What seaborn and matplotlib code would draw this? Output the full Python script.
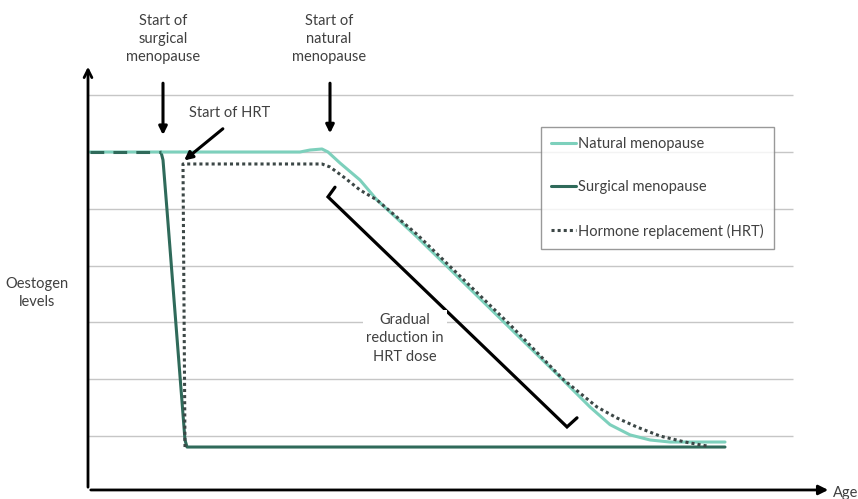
import matplotlib
matplotlib.use("Agg")
import pandas as pd
import seaborn as sns
import matplotlib.pyplot as plt

# age axis (arbitrary units) and oestrogen level (gridline units)
natural_age = [0.2, 21.2, 22.2, 23.4, 24.0, 25.2, 27.2, 28.9, 32.9, 42.2, 47.5,
               50.2, 52.2, 54.2, 56.2, 58.2, 63.7]
natural_level = [6.0, 6.0, 6.035, 6.053, 6.0, 5.806, 5.507, 5.155, 4.504, 2.901,
                 1.986, 1.511, 1.2, 1.02, 0.93, 0.894, 0.894]

surgical_pre_age = [0.2, 7.3]
surgical_pre_level = [6.0, 6.0]
surgical_age = [7.3, 7.5, 7.9, 9.7, 9.9, 63.7]
surgical_level = [6.0, 5.859, 4.979, 0.93, 0.806, 0.806]

hrt_age = [9.7, 9.5, 23.4, 24.2, 25.7, 27.2, 28.9, 32.9, 42.2, 47.5, 50.9,
           52.9, 54.9, 57.2, 59.7, 61.9]
hrt_level = [0.806, 5.789, 5.789, 5.736, 5.542, 5.331, 5.155, 4.55, 2.96, 2.0,
             1.511, 1.317, 1.158, 1.0, 0.894, 0.824]

# bracket marking the gradual dose reduction
bracket_x = [24.7, 24.0, 47.9, 48.9]
bracket_y = [5.38, 5.21, 1.16, 1.32]
bracket_tick_x = [35.7, 35.0]
bracket_tick_y = [3.17, 2.99]

grid_levels = [1, 2, 3, 4, 5, 6, 7]

c_nat = "#7dd0bc"
c_surg = "#2f6a5a"
c_hrt = "#3c4746"
txt = "#404040"

sns.set_theme(style="white")
plt.rcParams["font.family"] = ["Lato", "DejaVu Sans"]

fig = plt.figure(figsize=(8.58, 4.99), dpi=100)
ax = fig.add_axes([0, 0, 1, 1])
ax.axis("off")

ax.hlines(grid_levels, 0, 70.5, color="#c6c6c6", lw=1, zorder=0)

nat = pd.DataFrame({"age": natural_age, "level": natural_level})
surg = pd.DataFrame({"age": surgical_age, "level": surgical_level})
surg_pre = pd.DataFrame({"age": surgical_pre_age, "level": surgical_pre_level})
hrt = pd.DataFrame({"age": hrt_age, "level": hrt_level})

sns.lineplot(data=nat, x="age", y="level", sort=False, color=c_nat, lw=2.2,
             label="Natural menopause", ax=ax, zorder=3)
sns.lineplot(data=surg, x="age", y="level", sort=False, color=c_surg, lw=2.2,
             label="Surgical menopause", ax=ax, zorder=2)
sns.lineplot(data=hrt, x="age", y="level", sort=False, color=c_hrt, lw=2.2,
             ls=(0, (1, 1)), label="Hormone replacement (HRT)", ax=ax, zorder=4)
sns.lineplot(data=surg_pre, x="age", y="level", sort=False, color=c_surg, lw=2.2,
             ls=(0, (4.5, 3)), ax=ax, zorder=4, legend=False)

ax.plot(bracket_x, bracket_y, color="black", lw=2.3, solid_joinstyle="miter")
ax.plot(bracket_tick_x, bracket_tick_y, color="black", lw=2.3)

ax.set_xlim(-8.8, 77.0)
ax.set_ylim(-0.109, 8.676)

# axes arrows
ax.annotate("", xy=(0, 7.55), xytext=(0, 0.05),
            arrowprops=dict(arrowstyle="->", color="black", lw=2, mutation_scale=14))
ax.annotate("", xy=(74.3, 0.05), xytext=(0, 0.05),
            arrowprops=dict(arrowstyle="-|>", color="black", lw=2, mutation_scale=14))
ax.text(74.5, 0.0, "Age", fontsize=10.5, color=txt, ha="left", va="center")
ax.text(-5.1, 3.52, "Oestogen\nlevels", fontsize=10.5, color=txt, ha="center",
        va="center", linespacing=1.4)

# event labels and arrows
ax.text(7.5, 7.99, "Start of\nsurgical\nmenopause", fontsize=10.5, color=txt,
        ha="center", va="center", linespacing=1.4)
ax.text(24.1, 7.99, "Start of\nnatural\nmenopause", fontsize=10.5, color=txt,
        ha="center", va="center", linespacing=1.4)
ax.text(14.2, 6.69, "Start of HRT", fontsize=10.5, color=txt, ha="center", va="center")
arrow = dict(arrowstyle="-|>", color="black", lw=2.2, mutation_scale=12)
ax.annotate("", xy=(7.5, 6.25), xytext=(7.5, 7.26), arrowprops=arrow)
ax.annotate("", xy=(24.2, 6.28), xytext=(24.2, 7.26), arrowprops=arrow)
ax.annotate("", xy=(9.4, 5.82), xytext=(13.7, 6.44), arrowprops=arrow)

ax.text(31.7, 2.72, "Gradual\nreduction in\nHRT dose", fontsize=10.5, color=txt,
        ha="center", va="center", linespacing=1.4,
        bbox=dict(facecolor="white", edgecolor="none", pad=2))

leg = ax.legend(loc="upper left", bbox_to_anchor=(0.6305, 0.7455), fontsize=10.5,
                frameon=True, fancybox=False, edgecolor="#808080", labelcolor=txt,
                handlelength=1.7, handletextpad=0.15, labelspacing=2.0,
                borderpad=0.7, borderaxespad=0)
leg.get_frame().set_linewidth(1)

fig.savefig("out.png", dpi=100)
